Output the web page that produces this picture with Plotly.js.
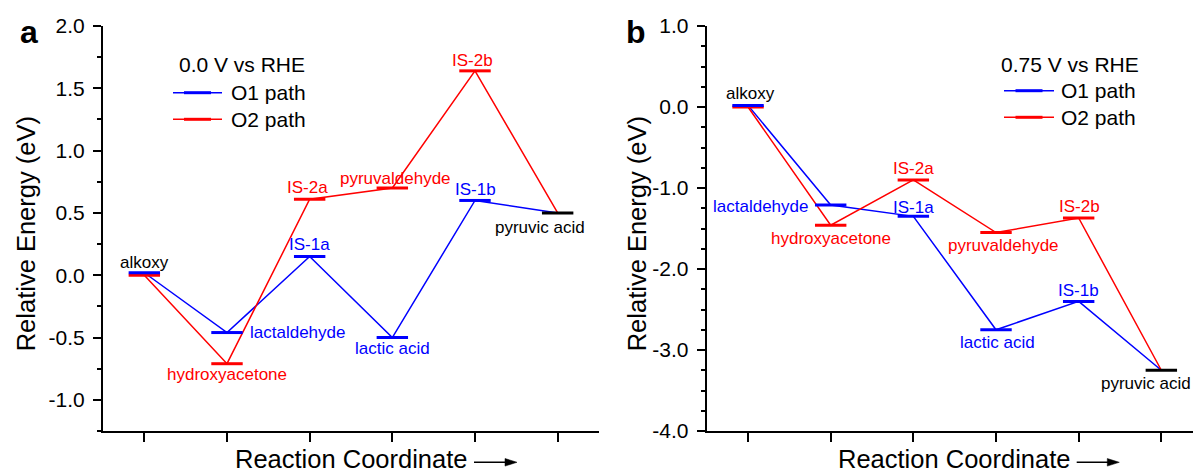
<!DOCTYPE html>
<html>
<head>
<meta charset="utf-8">
<script src="https://cdn.plot.ly/plotly-3.0.1.min.js"></script>
<style>html,body{margin:0;padding:0;background:#fff;}</style>
</head>
<body>
<div id="chart" style="width:1193px;height:475px;"></div>
<script>
// Reaction steps along the coordinate
const steps = [1, 2, 3, 4, 5, 6];
// Species on each pathway
const o1Species = ['alkoxy', 'lactaldehyde', 'IS-1a', 'lactic acid', 'IS-1b', 'pyruvic acid'];
const o2Species = ['alkoxy', 'hydroxyacetone', 'IS-2a', 'pyruvaldehyde', 'IS-2b', 'pyruvic acid'];
// Relative energies (eV) at 0.0 V vs RHE
const o1At0 = [0.02, -0.46, 0.15, -0.50, 0.60, 0.50];
const o2At0 = [0.00, -0.71, 0.61, 0.70, 1.64, 0.50];
// Relative energies (eV) at 0.75 V vs RHE
const o1At075 = [0.02, -1.21, -1.35, -2.75, -2.40, -3.25];
const o2At075 = [0.00, -1.46, -0.90, -1.55, -1.37, -3.25];
// Y tick values and labels
const yTicksA = [-1.0, -0.5, 0.0, 0.5, 1.0, 1.5, 2.0];
const yTickTextA = ['-1.0', '-0.5', '0.0', '0.5', '1.0', '1.5', '2.0'];
const yTicksB = [-4, -3, -2, -1, 0, 1];
const yTickTextB = ['-4.0', '-3.0', '-2.0', '-1.0', '0.0', '1.0'];
// Panel captions
const potentialA = '0.0 V vs RHE';
const potentialB = '0.75 V vs RHE';
const pathNames = ['O1 path', 'O2 path'];

const W = 1193, H = 475;
const FONT = 'Liberation Sans, Arial, sans-serif';
const BLUE = '#0000ff', RED = '#ff0000', BLACK = '#000000';
const HALF = 0.19;           // half-width of an energy level bar (x units)
const px = p => p / W;        // pixel -> paper x
const py = p => 1 - p / H;    // pixel -> paper y

// Energy level bars: one horizontal segment per state
function levels(values, color, xa, ya, from, to) {
  const x = [], y = [];
  for (let i = from; i < to; i++) {
    x.push(steps[i] - HALF, steps[i] + HALF, null);
    y.push(values[i], values[i], null);
  }
  return {x, y, xaxis: xa, yaxis: ya, mode: 'lines', line: {color, width: 3}, hoverinfo: 'skip', cliponaxis: false};
}
// Connecting path between the states
function path(values, color, xa, ya) {
  return {x: steps, y: values, xaxis: xa, yaxis: ya, mode: 'lines', line: {color, width: 1.5}, hoverinfo: 'skip', cliponaxis: false};
}

function panelTraces(o1, o2, xa, ya) {
  return [
    path(o1, BLUE, xa, ya),
    path(o2, RED, xa, ya),
    levels(o2, RED, xa, ya, 0, 5),
    levels(o1, BLUE, xa, ya, 0, 5),
    levels(o1, BLACK, xa, ya, 5, 6)
  ];
}

const data = [
  ...panelTraces(o1At0, o2At0, 'x', 'y'),
  ...panelTraces(o1At075, o2At075, 'x2', 'y2')
];

// Label placement: [xanchor, xshift px, yshift px]; null = no label
const placeA1 = [['center', 0, 10], ['left', 21, 0], ['center', 0, 12], ['center', 0, -10.5], ['center', 0, 11], ['center', -18, -15]];
const placeA2 = [null, ['center', 0, -11], ['center', -2, 11.5], ['center', 3, 9.5], ['center', -3, 10.5], null];
const placeB1 = [['center', 2, 12], ['right', -20.5, -1], ['center', 0, 9], ['center', 1, -13], ['center', 0, 10.5], ['center', -15.5, -13]];
const placeB2 = [null, ['center', 0, -13], ['center', 0, 11.5], ['center', 7, -12.5], ['center', 1, 11.3], null];

function labelColor(i, color) { return (i === 0 || i === 5) ? BLACK : color; }
function labels(names, values, place, color, xa, ya) {
  const out = [];
  names.forEach((n, i) => {
    const p = place[i];
    if (!p) return;
    out.push({
      x: steps[i], y: values[i], xref: xa, yref: ya, text: n, showarrow: false,
      xanchor: p[0], yanchor: 'middle', xshift: p[1], yshift: p[2],
      font: {family: FONT, size: 17, color: labelColor(i, color)}
    });
  });
  return out;
}

function txt(x, y, text, size, opts) {
  return Object.assign({x: px(x), y: py(y), xref: 'paper', yref: 'paper', text, showarrow: false,
    xanchor: 'left', yanchor: 'middle', font: {family: FONT, size, color: BLACK}}, opts || {});
}

const annotations = [
  ...labels(o1Species, o1At0, placeA1, BLUE, 'x', 'y'),
  ...labels(o2Species, o2At0, placeA2, RED, 'x', 'y'),
  ...labels(o1Species, o1At075, placeB1, BLUE, 'x2', 'y2'),
  ...labels(o2Species, o2At075, placeB2, RED, 'x2', 'y2'),
  // legends
  txt(176.8, 64.3, potentialA, 21),
  txt(228.5, 92.7, pathNames[0], 21),
  txt(228.5, 119.3, pathNames[1], 21),
  txt(999, 64.3, potentialB, 21),
  txt(1058.8, 90.7, pathNames[0], 21),
  txt(1058.8, 117.3, pathNames[1], 21),
  // axis titles
  txt(25.8, 233.5, 'Relative Energy (eV)', 25.5, {xanchor: 'center', textangle: -90}),
  txt(636.8, 233.5, 'Relative Energy (eV)', 25.5, {xanchor: 'center', textangle: -90}),
  txt(351, 475, 'Reaction Coordinate', 25.5, {xanchor: 'center', yanchor: 'bottom'}),
  txt(954.2, 475, 'Reaction Coordinate', 25.5, {xanchor: 'center', yanchor: 'bottom'}),
  // panel letters
  txt(29, 32, '<b>a</b>', 32, {xanchor: 'center'}),
  txt(635.5, 32, '<b>b</b>', 32, {xanchor: 'center'})
];

function legendLine(x0, x1, y, color) {
  const mid = (x0 + x1) / 2;
  return [
    {type: 'line', xref: 'paper', yref: 'paper', x0: px(x0), x1: px(x1), y0: py(y), y1: py(y), line: {color, width: 1.5}},
    {type: 'line', xref: 'paper', yref: 'paper', x0: px(mid - 13.5), x1: px(mid + 13.5), y0: py(y), y1: py(y), line: {color, width: 3}}
  ];
}
function arrow(x0, x1, y) {
  return [
    {type: 'line', xref: 'paper', yref: 'paper', x0: px(x0), x1: px(x1 - 9), y0: py(y), y1: py(y), line: {color: BLACK, width: 1.5}},
    {type: 'path', xref: 'paper', yref: 'paper',
     path: `M ${px(x1 - 12)},${py(y - 3.8)} L ${px(x1)},${py(y)} L ${px(x1 - 12)},${py(y + 3.8)} Z`,
     fillcolor: BLACK, line: {color: BLACK, width: 0.5}}
  ];
}

const shapes = [
  ...legendLine(173, 222, 92.7, BLUE),
  ...legendLine(173, 222, 119.3, RED),
  ...legendLine(1004, 1054, 90.7, BLUE),
  ...legendLine(1004, 1054, 117.3, RED),
  ...arrow(474, 517, 462.3),
  ...arrow(1076.7, 1119.3, 462.3)
];

const yDom = [py(431), py(26)];
const rangeA = [-1.25, 2.0];
const rangeB = [-4.0, 1.0];
const xRangeA = [0.5, 6.5];
const xRangeB = [0.5, 6.383];

const lineCommon = {showgrid: false, zeroline: false, showline: true, linecolor: BLACK, linewidth: 2,
  tickcolor: BLACK, tickwidth: 2, fixedrange: true};
const minorOut = {tickmode: 'linear', tick0: 0, dtick: 0.25, ticks: 'outside', ticklen: 4, tickwidth: 2, tickcolor: BLACK, showgrid: false};
const minorIn = Object.assign({}, minorOut, {ticks: 'inside'});

function xBottom(domain, range, anchor) {
  return Object.assign({}, lineCommon, {domain, range, anchor, tickmode: 'array', tickvals: steps,
    showticklabels: false, ticks: 'outside', ticklen: 9});
}
function xTop(over, range, anchor) {
  return Object.assign({}, lineCommon, {overlaying: over, side: 'top', range, anchor, tickmode: 'array',
    tickvals: steps, showticklabels: false, ticks: 'inside', ticklen: 9});
}
function yLeft(range, anchor, vals, text) {
  return Object.assign({}, lineCommon, {domain: yDom, range, anchor, tickmode: 'array', tickvals: vals,
    ticktext: text, ticks: 'outside', ticklen: 8, ticklabelstandoff: 4, minor: minorOut,
    tickfont: {family: FONT, size: 21, color: BLACK}});
}

const layout = {
  width: W, height: H,
  margin: {l: 0, r: 0, t: 0, b: 0},
  paper_bgcolor: '#fff', plot_bgcolor: 'rgba(0,0,0,0)',
  showlegend: false, hovermode: false,
  font: {family: FONT, color: BLACK},
  xaxis: xBottom([px(103), px(599)], xRangeA, 'y'),
  xaxis3: xTop('x', xRangeA, 'y'),
  yaxis: yLeft(rangeA, 'x', yTicksA, yTickTextA),
  yaxis3: Object.assign({}, lineCommon, {overlaying: 'y', side: 'right', range: rangeA, anchor: 'x',
    tickmode: 'array', tickvals: yTicksA, showticklabels: false, ticks: 'inside', ticklen: 8, minor: minorIn}),
  xaxis2: xBottom([px(706.7), 1], xRangeB, 'y2'),
  xaxis4: xTop('x2', xRangeB, 'y2'),
  yaxis2: yLeft(rangeB, 'x2', yTicksB, yTickTextB),
  annotations, shapes
};

Plotly.newPlot('chart', data, layout, {staticPlot: true, displayModeBar: false});
</script>
</body>
</html>
